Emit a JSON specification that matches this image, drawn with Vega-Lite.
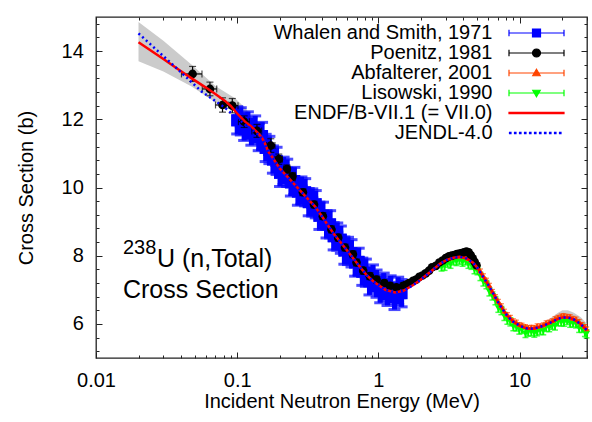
{
  "$schema": "https://vega.github.io/schema/vega-lite/v6.json",
  "width": 491,
  "height": 341,
  "autosize": {"type": "none"},
  "padding": {"left": 96, "top": 17, "right": 5, "bottom": 64},
  "background": "white",
  "config": {
    "view": {"stroke": "#222222", "strokeWidth": 1.3},
    "font": "Liberation Sans",
    "axis": {
      "domain": false, "grid": false, "tickColor": "#222222", "tickWidth": 1,
      "labelFont": "Liberation Sans", "labelFontSize": 20, "labelColor": "#000000",
      "titleFont": "Liberation Sans", "titleFontSize": 20, "titleFontWeight": "normal", "titleColor": "#000000",
      "labelFlush": false, "labelOverlap": false
    }
  },
  "resolve": {"axis": {"x": "independent", "y": "independent"}},
  "datasets": {
    "endf": [
      {"E":0.02,"s":14.26},{"E":0.03,"s":13.77},{"E":0.04,"s":13.41},{"E":0.0476,"s":13.2},{"E":0.06,"s":12.93},
      {"E":0.07,"s":12.74},{"E":0.082,"s":12.54},{"E":0.09,"s":12.39},{"E":0.1,"s":12.17},{"E":0.1136,"s":11.93},
      {"E":0.125,"s":11.8},{"E":0.141,"s":11.59},{"E":0.15,"s":11.45},{"E":0.157,"s":11.3},{"E":0.166,"s":11.05},
      {"E":0.18,"s":10.85},{"E":0.2,"s":10.56},{"E":0.23,"s":10.29},{"E":0.264,"s":10.02},{"E":0.3,"s":9.77},
      {"E":0.356,"s":9.44},{"E":0.4,"s":9.14},{"E":0.479,"s":8.66},{"E":0.55,"s":8.35},{"E":0.65,"s":7.97},
      {"E":0.75,"s":7.64},{"E":0.826,"s":7.43},{"E":0.92,"s":7.25},{"E":1.0,"s":7.14},{"E":1.12,"s":7.0},
      {"E":1.311,"s":6.92},{"E":1.5,"s":6.97},{"E":1.765,"s":7.14},{"E":2.0,"s":7.3},{"E":2.42,"s":7.58},
      {"E":2.73,"s":7.76},{"E":3.02,"s":7.87},{"E":3.4,"s":7.94},{"E":3.76,"s":7.97},{"E":4.2,"s":7.92},
      {"E":4.66,"s":7.8},{"E":5.0,"s":7.66},{"E":5.52,"s":7.38},{"E":6.0,"s":7.14},{"E":6.49,"s":6.9},
      {"E":7.0,"s":6.65},{"E":7.63,"s":6.41},{"E":8.2,"s":6.23},{"E":8.98,"s":6.07},{"E":10,"s":5.95},
      {"E":11.1,"s":5.87},{"E":12.4,"s":5.86},{"E":13.7,"s":5.9},{"E":15.2,"s":5.97},{"E":17.0,"s":6.06},
      {"E":18.5,"s":6.14},{"E":20.1,"s":6.19},{"E":22,"s":6.19},{"E":24.2,"s":6.13},{"E":27,"s":6.0},
      {"E":29.9,"s":5.82},{"E":30,"s":5.81}
    ],
    "jendl": [
      {"E":0.02,"s":14.52},{"E":0.0363,"s":13.54},{"E":0.0561,"s":12.81},{"E":0.082,"s":12.34},{"E":0.0965,"s":12.08},
      {"E":0.1136,"s":11.85},{"E":0.125,"s":11.72},{"E":0.141,"s":11.55},{"E":0.15,"s":11.43},{"E":0.157,"s":11.28},
      {"E":0.166,"s":11.05},{"E":0.18,"s":10.85},{"E":0.2,"s":10.56},{"E":0.23,"s":10.29},{"E":0.264,"s":10.02},
      {"E":0.3,"s":9.77},{"E":0.356,"s":9.44},{"E":0.4,"s":9.14},{"E":0.479,"s":8.66},{"E":0.55,"s":8.35},
      {"E":0.65,"s":7.97},{"E":0.75,"s":7.64},{"E":0.826,"s":7.43},{"E":0.92,"s":7.25},{"E":1.0,"s":7.14},
      {"E":1.12,"s":7.0},{"E":1.311,"s":6.92},{"E":1.5,"s":6.97},{"E":1.765,"s":7.14},{"E":2.0,"s":7.3},
      {"E":2.42,"s":7.58},{"E":2.73,"s":7.76},{"E":3.02,"s":7.87},{"E":3.4,"s":7.94},{"E":3.76,"s":7.97},
      {"E":4.2,"s":7.92},{"E":4.66,"s":7.8},{"E":5.0,"s":7.66},{"E":5.52,"s":7.38},{"E":6.0,"s":7.14},
      {"E":6.49,"s":6.9},{"E":7.0,"s":6.65},{"E":7.63,"s":6.41},{"E":8.2,"s":6.23},{"E":8.98,"s":6.07},
      {"E":10,"s":5.95},{"E":11.1,"s":5.87},{"E":12.4,"s":5.86},{"E":13.7,"s":5.9},{"E":15.2,"s":5.97},
      {"E":17.0,"s":6.06},{"E":18.5,"s":6.14},{"E":20.1,"s":6.19},{"E":22,"s":6.19},{"E":24.2,"s":6.13},
      {"E":27,"s":6.0},{"E":29.9,"s":5.82},{"E":30,"s":5.81}
    ],
    "band_lo": [
      {"E":0.02,"lo":13.7,"hi":14.85},{"E":0.03,"lo":13.4,"hi":14.3},{"E":0.0476,"lo":12.96,"hi":13.6},
      {"E":0.07,"lo":12.5,"hi":12.98},{"E":0.0965,"lo":12.22,"hi":12.62},{"E":0.115,"lo":11.93,"hi":12.32},
      {"E":0.127,"lo":11.8,"hi":12.05}
    ],
    "band_hi": [
      {"E":13.3,"lo":5.86,"hi":5.92},{"E":15.4,"lo":5.9,"hi":6.08},{"E":17.0,"lo":5.95,"hi":6.2},
      {"E":18.7,"lo":6.0,"hi":6.33},{"E":20.1,"lo":6.02,"hi":6.4},{"E":22.0,"lo":6.02,"hi":6.4},
      {"E":24.2,"lo":5.97,"hi":6.33},{"E":27.0,"lo":5.85,"hi":6.2},{"E":29.8,"lo":5.65,"hi":6.02}
    ],
    "whalen": [
      {"E":0.100,"s":11.97,"ds":0.4,"dE":0.007},{"E":0.106,"s":11.94,"ds":0.4,"dE":0.0074},
      {"E":0.112,"s":11.78,"ds":0.4,"dE":0.0078},{"E":0.119,"s":11.82,"ds":0.4,"dE":0.0083},
      {"E":0.126,"s":11.64,"ds":0.4,"dE":0.0088},{"E":0.134,"s":11.70,"ds":0.4,"dE":0.0094},
      {"E":0.142,"s":11.48,"ds":0.4,"dE":0.0099},{"E":0.150,"s":11.51,"ds":0.4,"dE":0.0105},
      {"E":0.159,"s":11.16,"ds":0.4,"dE":0.0111},{"E":0.169,"s":11.10,"ds":0.4,"dE":0.0118},
      {"E":0.179,"s":10.82,"ds":0.4,"dE":0.0125},{"E":0.190,"s":10.78,"ds":0.4,"dE":0.0133},
      {"E":0.201,"s":10.43,"ds":0.4,"dE":0.0141},{"E":0.213,"s":10.49,"ds":0.4,"dE":0.0149},
      {"E":0.226,"s":10.43,"ds":0.4,"dE":0.0158},{"E":0.240,"s":10.15,"ds":0.4,"dE":0.0168},
      {"E":0.254,"s":10.19,"ds":0.4,"dE":0.0178},{"E":0.269,"s":9.88,"ds":0.4,"dE":0.0188},
      {"E":0.285,"s":9.91,"ds":0.4,"dE":0.02},{"E":0.303,"s":9.86,"ds":0.4,"dE":0.0212},
      {"E":0.321,"s":9.57,"ds":0.4,"dE":0.0225},{"E":0.340,"s":9.56,"ds":0.4,"dE":0.0238},
      {"E":0.360,"s":9.51,"ds":0.4,"dE":0.0252},{"E":0.382,"s":9.17,"ds":0.4,"dE":0.0267},
      {"E":0.405,"s":9.17,"ds":0.4,"dE":0.0284},{"E":0.429,"s":8.92,"ds":0.4,"dE":0.03},
      {"E":0.455,"s":8.92,"ds":0.4,"dE":0.0319},{"E":0.482,"s":8.57,"ds":0.4,"dE":0.0337},
      {"E":0.511,"s":8.56,"ds":0.4,"dE":0.0358},{"E":0.542,"s":8.47,"ds":0.4,"dE":0.0379},
      {"E":0.574,"s":8.15,"ds":0.4,"dE":0.0402},{"E":0.609,"s":8.14,"ds":0.4,"dE":0.0426},
      {"E":0.645,"s":8.07,"ds":0.4,"dE":0.0452},{"E":0.684,"s":7.80,"ds":0.4,"dE":0.0479},
      {"E":0.725,"s":7.82,"ds":0.4,"dE":0.0508},{"E":0.769,"s":7.53,"ds":0.4,"dE":0.0538},
      {"E":0.815,"s":7.50,"ds":0.4,"dE":0.0571},{"E":0.864,"s":7.25,"ds":0.4,"dE":0.0605},
      {"E":0.915,"s":7.33,"ds":0.4,"dE":0.064},{"E":0.970,"s":7.18,"ds":0.4,"dE":0.0679},
      {"E":1.03,"s":7.02,"ds":0.4,"dE":0.0721},{"E":1.09,"s":7.09,"ds":0.4,"dE":0.0763},
      {"E":1.16,"s":6.94,"ds":0.4,"dE":0.0812},{"E":1.22,"s":7.01,"ds":0.4,"dE":0.0854},
      {"E":1.30,"s":6.82,"ds":0.4,"dE":0.091},{"E":1.38,"s":6.97,"ds":0.4,"dE":0.0966},
      {"E":1.46,"s":6.90,"ds":0.4,"dE":0.08}
    ],
    "poenitz": [
      {"E":0.0483,"s":13.33,"ds":0.22,"dE":0.008},{"E":0.0641,"s":12.89,"ds":0.2,"dE":0.0075},
      {"E":0.0787,"s":12.42,"ds":0.21,"dE":0.0085},{"E":0.0923,"s":12.40,"ds":0.21,"dE":0.009},
      {"E":0.112,"s":11.93,"ds":0.17,"dE":0.01},{"E":0.138,"s":11.66,"ds":0.19,"dE":0.011},
      {"E":0.173,"s":11.23,"ds":0.2,"dE":0.012},{"E":0.197,"s":10.83,"ds":0.15,"dE":0.012},
      {"E":0.225,"s":10.54,"ds":0.12,"dE":0.012},{"E":0.246,"s":10.32,"ds":0.12,"dE":0.012},
      {"E":0.292,"s":9.86,"ds":0.1,"dE":0.012},{"E":0.35,"s":9.5,"ds":0.1,"dE":0.012},
      {"E":0.404,"s":9.16,"ds":0.1,"dE":0.014},{"E":0.465,"s":8.77,"ds":0.1,"dE":0.015},
      {"E":0.519,"s":8.53,"ds":0.1,"dE":0.016},{"E":0.58,"s":8.24,"ds":0.1,"dE":0.017},
      {"E":0.66,"s":8.04,"ds":0.1,"dE":0.019},{"E":0.70,"s":7.8,"ds":0.1,"dE":0.02},
      {"E":0.78,"s":7.56,"ds":0.1,"dE":0.022},{"E":0.87,"s":7.4,"ds":0.1,"dE":0.024},
      {"E":0.97,"s":7.3,"ds":0.1,"dE":0.026},{"E":1.1,"s":7.2,"ds":0.08,"dE":0.03},
      {"E":1.21,"s":7.12,"ds":0.08,"dE":0.033},{"E":1.34,"s":7.07,"ds":0.08,"dE":0.036},
      {"E":1.5,"s":7.12,"ds":0.08,"dE":0.04},{"E":1.58,"s":7.15,"ds":0.08,"dE":0.045},
      {"E":1.65,"s":7.2,"ds":0.06,"dE":0.05},{"E":1.76,"s":7.26,"ds":0.06,"dE":0.05},
      {"E":1.85,"s":7.3,"ds":0.06,"dE":0.055},{"E":1.95,"s":7.38,"ds":0.06,"dE":0.06},
      {"E":2.05,"s":7.42,"ds":0.06,"dE":0.06},{"E":2.16,"s":7.48,"ds":0.06,"dE":0.065},
      {"E":2.28,"s":7.56,"ds":0.06,"dE":0.07},{"E":2.4,"s":7.66,"ds":0.06,"dE":0.07},
      {"E":2.55,"s":7.7,"ds":0.06,"dE":0.075},{"E":2.7,"s":7.8,"ds":0.06,"dE":0.08},
      {"E":2.85,"s":7.86,"ds":0.06,"dE":0.085},{"E":3.0,"s":7.93,"ds":0.06,"dE":0.09},
      {"E":3.16,"s":7.98,"ds":0.06,"dE":0.095},{"E":3.3,"s":8.0,"ds":0.06,"dE":0.1},
      {"E":3.45,"s":8.02,"ds":0.06,"dE":0.1},{"E":3.6,"s":8.05,"ds":0.06,"dE":0.11},
      {"E":3.75,"s":8.06,"ds":0.06,"dE":0.11},{"E":3.9,"s":8.08,"ds":0.06,"dE":0.12},
      {"E":4.05,"s":8.1,"ds":0.06,"dE":0.12},{"E":4.2,"s":8.12,"ds":0.06,"dE":0.13},
      {"E":4.35,"s":8.1,"ds":0.06,"dE":0.13},{"E":4.5,"s":8.02,"ds":0.06,"dE":0.13},
      {"E":4.65,"s":7.92,"ds":0.06,"dE":0.14},{"E":4.8,"s":7.82,"ds":0.06,"dE":0.14},
      {"E":4.95,"s":7.72,"ds":0.06,"dE":0.15}
    ],
    "lis": [
      {"E":2.80,"s":7.67,"ds":0.12},{"E":2.94,"s":7.69,"ds":0.12},{"E":3.09,"s":7.78,"ds":0.12},{"E":3.24,"s":7.75,"ds":0.12},{"E":3.40,"s":7.85,"ds":0.12},
      {"E":3.57,"s":7.83,"ds":0.12},{"E":3.75,"s":7.87,"ds":0.12},{"E":3.94,"s":7.81,"ds":0.12},{"E":4.14,"s":7.85,"ds":0.12},{"E":4.34,"s":7.75,"ds":0.12},
      {"E":4.56,"s":7.72,"ds":0.12},{"E":4.79,"s":7.59,"ds":0.12},{"E":5.03,"s":7.56,"ds":0.12},{"E":5.28,"s":7.39,"ds":0.12},{"E":5.54,"s":7.23,"ds":0.12},
      {"E":5.82,"s":7.15,"ds":0.12},{"E":6.11,"s":6.94,"ds":0.12},{"E":6.42,"s":6.82,"ds":0.12},{"E":6.74,"s":6.68,"ds":0.12},{"E":7.07,"s":6.46,"ds":0.12},
      {"E":7.43,"s":6.39,"ds":0.12},{"E":7.80,"s":6.22,"ds":0.12},{"E":8.19,"s":6.11,"ds":0.12},{"E":8.60,"s":6.06,"ds":0.12},{"E":9.03,"s":5.92,"ds":0.12},
      {"E":9.48,"s":5.91,"ds":0.12},{"E":9.95,"s":5.82,"ds":0.12},{"E":10.4,"s":5.84,"ds":0.12},{"E":11.0,"s":5.72,"ds":0.12},{"E":11.5,"s":5.76,"ds":0.12},
      {"E":12.1,"s":5.77,"ds":0.12},{"E":12.7,"s":5.73,"ds":0.12},{"E":13.3,"s":5.77,"ds":0.12},{"E":14.0,"s":5.81,"ds":0.12},{"E":14.7,"s":5.80,"ds":0.12},
      {"E":15.4,"s":5.90,"ds":0.12},{"E":16.2,"s":5.89,"ds":0.12},{"E":17.0,"s":5.96,"ds":0.12},{"E":17.8,"s":5.94,"ds":0.12},{"E":18.7,"s":6.06,"ds":0.12},
      {"E":19.7,"s":6.06,"ds":0.12},{"E":20.6,"s":6.05,"ds":0.12},{"E":21.7,"s":6.10,"ds":0.12},{"E":22.8,"s":6.02,"ds":0.12},{"E":23.9,"s":6.03,"ds":0.12},
      {"E":25.1,"s":6.00,"ds":0.12},{"E":26.4,"s":5.87,"ds":0.12},{"E":27.7,"s":5.87,"ds":0.12},{"E":29.0,"s":5.75,"ds":0.12},{"E":29.8,"s":5.71,"ds":0.12}
    ],
    "abf": [
      {"E":3.09,"s":7.93,"ds":0.05},{"E":3.24,"s":7.94,"ds":0.05},{"E":3.40,"s":8.00,"ds":0.05},{"E":3.57,"s":8.0,"ds":0.05},{"E":3.75,"s":7.99,"ds":0.05},
      {"E":3.94,"s":8.01,"ds":0.05},{"E":4.14,"s":7.99,"ds":0.05},{"E":4.34,"s":7.92,"ds":0.05},{"E":4.56,"s":7.87,"ds":0.05},{"E":4.79,"s":7.81,"ds":0.05},
      {"E":5.03,"s":7.67,"ds":0.05},{"E":5.28,"s":7.56,"ds":0.05},{"E":5.54,"s":7.42,"ds":0.05},{"E":5.82,"s":7.29,"ds":0.05},{"E":6.11,"s":7.14,"ds":0.05},
      {"E":6.42,"s":6.96,"ds":0.05},{"E":6.74,"s":6.81,"ds":0.05},{"E":7.07,"s":6.67,"ds":0.05},{"E":7.43,"s":6.54,"ds":0.05},{"E":7.80,"s":6.38,"ds":0.05},
      {"E":8.19,"s":6.28,"ds":0.05},{"E":8.60,"s":6.20,"ds":0.05},{"E":9.03,"s":6.10,"ds":0.05},{"E":9.48,"s":6.06,"ds":0.05},{"E":9.95,"s":5.99,"ds":0.05},
      {"E":10.4,"s":5.97,"ds":0.05},{"E":11.0,"s":5.93,"ds":0.05},{"E":11.5,"s":5.90,"ds":0.05},{"E":12.1,"s":5.91,"ds":0.05},{"E":12.7,"s":5.90,"ds":0.05},
      {"E":13.3,"s":5.95,"ds":0.05},{"E":14.0,"s":5.95,"ds":0.05},{"E":14.7,"s":5.98,"ds":0.05},{"E":15.4,"s":6.04,"ds":0.05},{"E":16.2,"s":6.06,"ds":0.05},
      {"E":17.0,"s":6.10,"ds":0.05},{"E":17.8,"s":6.16,"ds":0.05},{"E":18.7,"s":6.20,"ds":0.05},{"E":19.7,"s":6.24,"ds":0.05},{"E":20.6,"s":6.25,"ds":0.05},
      {"E":21.7,"s":6.23,"ds":0.05},{"E":22.8,"s":6.22,"ds":0.05},{"E":23.9,"s":6.17,"ds":0.05},{"E":25.1,"s":6.15,"ds":0.05},{"E":26.4,"s":6.08,"ds":0.05},
      {"E":27.7,"s":5.99,"ds":0.05},{"E":29.0,"s":5.93,"ds":0.05},{"E":29.8,"s":5.86,"ds":0.05}
    ],
    "notes": [
      {"E":0.02704,"s":7.678,"text":"U (n,Total)"},
      {"E":0.01553,"s":6.751,"text":"Cross Section"}
    ],
    "sup": [
      {"E":0.01553,"s":8.05,"text":"238"}
    ]
  },
  "layer": [
    {
      "data": {"name": "band_lo"},
      "mark": {"type": "area", "color": "#cbcbcb", "opacity": 1},
      "encoding": {
        "x": {"field": "E", "type": "quantitative", "scale": {"type": "log", "domain": [0.01, 30], "nice": false},
              "axis": {"orient": "bottom", "values": [0.02,0.03,0.04,0.05,0.06,0.07,0.08,0.09,0.2,0.3,0.4,0.5,0.6,0.7,0.8,0.9,2,3,4,5,6,7,8,9,20,30], "labels": false, "tickSize": -3, "title": null}},
        "y": {"field": "lo", "type": "quantitative", "scale": {"domain": [5, 15], "nice": false, "zero": false},
              "axis": {"orient": "left", "values": [5.2,5.6,6.4,6.8,7.2,7.6,8.4,8.8,9.2,9.6,10.4,10.8,11.2,11.6,12.4,12.8,13.2,13.6,14.4,14.8], "labels": false, "tickSize": -3, "title": null}},
        "y2": {"field": "hi"}
      }
    },
    {
      "data": {"name": "band_hi"},
      "mark": {"type": "area", "color": "#cbcbcb", "opacity": 1},
      "encoding": {
        "x": {"field": "E", "type": "quantitative", "scale": {"type": "log", "domain": [0.01, 30], "nice": false},
              "axis": {"orient": "top", "values": [0.02,0.03,0.04,0.05,0.06,0.07,0.08,0.09,0.2,0.3,0.4,0.5,0.6,0.7,0.8,0.9,2,3,4,5,6,7,8,9,20,30], "labels": false, "tickSize": -3, "title": null}},
        "y": {"field": "lo", "type": "quantitative", "scale": {"domain": [5, 15], "nice": false, "zero": false},
              "axis": {"orient": "right", "values": [5.2,5.6,6.4,6.8,7.2,7.6,8.4,8.8,9.2,9.6,10.4,10.8,11.2,11.6,12.4,12.8,13.2,13.6,14.4,14.8], "labels": false, "tickSize": -3, "title": null}},
        "y2": {"field": "hi"}
      }
    },
    {
      "data": {"name": "lis"},
      "mark": {"type": "errorbar", "color": "#00ff00", "ticks": {"size": 6, "thickness": 1.5}, "thickness": 2},
      "encoding": {
        "x": {"field": "E", "type": "quantitative", "axis": null},
        "y": {"field": "s", "type": "quantitative", "axis": null},
        "yError": {"field": "ds"}
      }
    },
    {
      "data": {"name": "lis"},
      "mark": {"type": "point", "shape": "triangle-down", "filled": true, "size": 50, "color": "#00ff00", "opacity": 1},
      "encoding": {
        "x": {"field": "E", "type": "quantitative", "axis": null},
        "y": {"field": "s", "type": "quantitative", "axis": null}
      }
    },
    {
      "data": {"name": "abf"},
      "mark": {"type": "errorbar", "color": "#ff4500", "ticks": {"size": 5}, "thickness": 1.2},
      "encoding": {
        "x": {"field": "E", "type": "quantitative", "axis": null},
        "y": {"field": "s", "type": "quantitative", "axis": null},
        "yError": {"field": "ds"}
      }
    },
    {
      "data": {"name": "abf"},
      "mark": {"type": "point", "shape": "triangle-up", "filled": true, "size": 35, "color": "#ff4500", "opacity": 1},
      "encoding": {
        "x": {"field": "E", "type": "quantitative", "axis": null},
        "y": {"field": "s", "type": "quantitative", "axis": null}
      }
    },
    {
      "data": {"name": "whalen"},
      "mark": {"type": "errorbar", "color": "#0000ff", "ticks": {"size": 12, "thickness": 3}, "thickness": 5},
      "encoding": {
        "x": {"field": "E", "type": "quantitative", "axis": null},
        "y": {"field": "s", "type": "quantitative", "axis": null},
        "yError": {"field": "ds"}
      }
    },
    {
      "data": {"name": "whalen"},
      "mark": {"type": "errorbar", "color": "#0000ff", "ticks": {"size": 12, "thickness": 3}, "thickness": 4},
      "encoding": {
        "x": {"field": "E", "type": "quantitative", "axis": null},
        "xError": {"field": "dE"},
        "y": {"field": "s", "type": "quantitative", "axis": null}
      }
    },
    {
      "data": {"name": "whalen"},
      "mark": {"type": "point", "shape": "square", "filled": true, "size": 144, "color": "#0000ff", "opacity": 1},
      "encoding": {
        "x": {"field": "E", "type": "quantitative", "axis": null},
        "y": {"field": "s", "type": "quantitative", "axis": null}
      }
    },
    {
      "data": {"name": "poenitz"},
      "mark": {"type": "errorbar", "color": "#000000", "ticks": {"size": 7}, "thickness": 1.2},
      "encoding": {
        "x": {"field": "E", "type": "quantitative", "axis": null},
        "y": {"field": "s", "type": "quantitative", "axis": null},
        "yError": {"field": "ds"}
      }
    },
    {
      "data": {"name": "poenitz"},
      "mark": {"type": "errorbar", "color": "#000000", "ticks": {"size": 7}, "thickness": 1.2},
      "encoding": {
        "x": {"field": "E", "type": "quantitative", "axis": null},
        "xError": {"field": "dE"},
        "y": {"field": "s", "type": "quantitative", "axis": null}
      }
    },
    {
      "data": {"name": "poenitz"},
      "mark": {"type": "point", "shape": "circle", "filled": true, "size": 75, "color": "#000000", "opacity": 1},
      "encoding": {
        "x": {"field": "E", "type": "quantitative", "axis": null},
        "y": {"field": "s", "type": "quantitative", "axis": null}
      }
    },
    {
      "data": {"name": "endf"},
      "mark": {"type": "line", "color": "#ff0000", "strokeWidth": 2.5},
      "encoding": {
        "x": {"field": "E", "type": "quantitative",
              "axis": {"orient": "bottom", "values": [0.01, 0.1, 1, 10], "format": "~g", "tickSize": -6,
                       "labelPadding": 34.3, "labelBaseline": "alphabetic", "labelAlign": "center",
                       "title": "Incident Neutron Energy (MeV)", "titleX": 245.5, "titleY": 49.5,
                       "titleBaseline": "alphabetic", "titleAlign": "center"}},
        "y": {"field": "s", "type": "quantitative",
              "axis": {"orient": "left", "values": [6, 8, 10, 12, 14], "tickSize": -6,
                       "labelPadding": 18.7, "labelBaseline": "middle", "labelAlign": "right",
                       "title": "Cross Section (b)", "titleAngle": 270, "titleX": -63.7, "titleY": 170.5,
                       "titleBaseline": "alphabetic", "titleAlign": "center"}}
      }
    },
    {
      "data": {"name": "jendl"},
      "mark": {"type": "line", "color": "#0000ff", "strokeWidth": 2.5, "strokeDash": [2, 3]},
      "encoding": {
        "x": {"field": "E", "type": "quantitative",
              "axis": {"orient": "top", "values": [0.01, 0.1, 1, 10], "labels": false, "tickSize": -6, "title": null}},
        "y": {"field": "s", "type": "quantitative",
              "axis": {"orient": "right", "values": [6, 8, 10, 12, 14], "labels": false, "tickSize": -6, "title": null}}
      }
    },
    {
      "data": {"name": "notes"},
      "mark": {"type": "text", "align": "left", "baseline": "alphabetic", "font": "Liberation Sans", "fontSize": 25, "color": "#000000"},
      "encoding": {
        "x": {"field": "E", "type": "quantitative", "axis": null},
        "y": {"field": "s", "type": "quantitative", "axis": null},
        "text": {"field": "text"}
      }
    },
    {
      "data": {"name": "sup"},
      "mark": {"type": "text", "align": "left", "baseline": "alphabetic", "font": "Liberation Sans", "fontSize": 20, "color": "#000000"},
      "encoding": {
        "x": {"field": "E", "type": "quantitative", "axis": null},
        "y": {"field": "s", "type": "quantitative", "axis": null},
        "text": {"field": "text"}
      }
    },
    {
      "data": {"values": []},
      "mark": {"type": "point", "filled": true, "opacity": 1},
      "encoding": {
        "fill": {
          "field": "series", "type": "nominal",
          "scale": {
            "domain": ["Whalen and Smith, 1971", "Poenitz, 1981", "Abfalterer, 2001", "Lisowski, 1990", "ENDF/B-VII.1 (= VII.0)", "JENDL-4.0"],
            "range": ["#0000ff", "#000000", "#ff4500", "#00ff00", "#ff0000", "#0000ff"]
          },
          "legend": {
            "orient": "none", "legendX": 387, "legendY": 6, "title": null, "direction": "vertical",
            "labelFont": "Liberation Sans", "labelFontSize": 20, "labelColor": "#000000",
            "labelAlign": "right", "labelOffset": -54, "labelLimit": 400,
            "symbolOffset": 43.5, "symbolSize": 100, "symbolStrokeWidth": 1.2, "symbolOpacity": 1,
            "rowPadding": 0, "padding": 0
          }
        },
        "stroke": {
          "field": "series", "type": "nominal",
          "scale": {
            "domain": ["Whalen and Smith, 1971", "Poenitz, 1981", "Abfalterer, 2001", "Lisowski, 1990", "ENDF/B-VII.1 (= VII.0)", "JENDL-4.0"],
            "range": ["#0000ff", "#000000", "#ff4500", "#00ff00", "#ff0000", "#0000ff"]
          }
        },
        "shape": {
          "field": "series", "type": "nominal",
          "scale": {
            "domain": ["Whalen and Smith, 1971", "Poenitz, 1981", "Abfalterer, 2001", "Lisowski, 1990", "ENDF/B-VII.1 (= VII.0)", "JENDL-4.0"],
            "range": [
              "M-5.5,0L5.5,0M-5.5,-0.66L-5.5,0.66M5.5,-0.66L5.5,0.66M-0.8,-0.8L0.8,-0.8L0.8,0.8L-0.8,0.8Z",
              "M-5.5,0L5.5,0M-5.5,-0.66L-5.5,0.66M5.5,-0.66L5.5,0.66M-0.8,0A0.8,0.8,0,1,0,0.8,0A0.8,0.8,0,1,0,-0.8,0Z",
              "M-5.5,0L5.5,0M-5.5,-0.66L-5.5,0.66M5.5,-0.66L5.5,0.66M0,-0.75L0.75,0.55L-0.75,0.55Z",
              "M-5.5,0L5.5,0M-5.5,-0.66L-5.5,0.66M5.5,-0.66L5.5,0.66M0,0.75L0.75,-0.55L-0.75,-0.55Z",
              "M-5.5,-0.13L5.5,-0.13L5.5,0.13L-5.5,0.13Z",
              "M-5.4,-0.12h0.3v0.24h-0.3ZM-4.4,-0.12h0.3v0.24h-0.3ZM-3.4,-0.12h0.3v0.24h-0.3ZM-2.4,-0.12h0.3v0.24h-0.3ZM-1.4,-0.12h0.3v0.24h-0.3ZM-0.4,-0.12h0.3v0.24h-0.3ZM0.6,-0.12h0.3v0.24h-0.3ZM1.6,-0.12h0.3v0.24h-0.3ZM2.6,-0.12h0.3v0.24h-0.3ZM3.6,-0.12h0.3v0.24h-0.3ZM4.6,-0.12h0.3v0.24h-0.3Z"
            ]
          }
        }
      }
    }
  ]
}
